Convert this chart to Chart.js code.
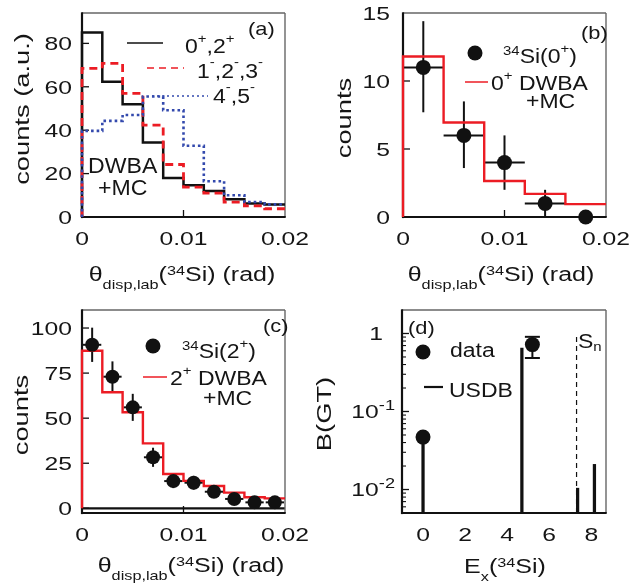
<!DOCTYPE html>
<html><head><meta charset="utf-8">
<script src="https://cdn.jsdelivr.net/npm/chart.js@4.4.1/dist/chart.umd.min.js"></script>
<style>
html,body{margin:0;padding:0;background:#fff;overflow:hidden}
#wrap{position:relative;width:638px;height:587px;background:#fff}
#wrap canvas{position:absolute;left:0;top:0}
</style></head><body><div id="wrap">
<canvas id="pa" width="638" height="587"></canvas>
<canvas id="pb" width="638" height="587"></canvas>
<canvas id="pc" width="638" height="587"></canvas>
<canvas id="pd" width="638" height="587"></canvas>
</div>
<script>
// ================= DATA =================
// Panel (a): DWBA+MC simulated distributions (histograms, bin edges in rad)
const thetaEdgesA = [0, 0.002, 0.004, 0.006, 0.008, 0.010, 0.012, 0.014, 0.016, 0.018, 0.020];
const dwbaA_0p2p   = [85, 62.3, 52, 34.3, 18, 14.6, 12, 8.2, 6.2, 5.8];
const dwbaA_1m2m3m = [68.5, 70.8, 57, 42.3, 24.2, 13.8, 11, 6.9, 5.1, 3.8];
const dwbaA_4m5m   = [39.7, 44.3, 47, 55.5, 49.2, 32.8, 16.5, 10, 6.9, 5.8];

// Panel (b): 34Si(0+) data and 0+ DWBA+MC
const thetaEdgesB = [0, 0.004, 0.008, 0.012, 0.016, 0.020];
const dwbaB_0p    = [11.8, 6.95, 2.65, 1.7, 0.95];
const thetaB      = [0.002, 0.006, 0.010, 0.014, 0.018];
const thetaErrB   = [0.002, 0.002, 0.002, 0.002, 0.002];
const countsB     = [11, 6, 4, 1, 0];
const countsErrLoB = [3.3, 2.4, 2.0, 1.0, 0];
const countsErrHiB = [3.4, 2.5, 2.0, 1.0, 0];

// Panel (c): 34Si(2+) data and 2+ DWBA+MC
const thetaEdgesC = [0, 0.002, 0.004, 0.006, 0.008, 0.010, 0.012, 0.014, 0.016, 0.018, 0.020];
const dwbaC_2p    = [87.4, 64.4, 53.3, 36, 19, 15.2, 12.4, 8.7, 6.1, 5.5];
const thetaC      = [0.001, 0.003, 0.005, 0.007, 0.009, 0.011, 0.013, 0.015, 0.017, 0.019];
const thetaErrC   = [0.0009, 0.0009, 0.0009, 0.0009, 0.0009, 0.0009, 0.0009, 0.0009, 0.0009, 0.0009];
const countsC     = [90.7, 73, 56, 28.3, 15.1, 14.2, 9.2, 5.2, 3.3, 3.3];
const countsErrC  = [9.5, 8.5, 7.5, 5.3, 3.9, 3.8, 3.0, 2.3, 1.8, 1.8];

// Panel (d): B(GT) vs Ex
const exData   = [0, 5.2];
const bgtData  = [0.047, 0.72];
const bgtErrLo = [0, 0.235];
const bgtErrHi = [0, 0.186];
const exUSDB   = [0, 4.7, 7.35, 8.15];
const bgtUSDB  = [0.04, 0.65, 0.0104, 0.021];
const exSn     = 7.3;
const snTop    = 1.0;

// Tick values / labels
const xTicksTheta = [0, 0.01, 0.02];
const xLabelsTheta = ['0', '0.01', '0.02'];
const yTicksA = [0, 20, 40, 60, 80];
const yLabelsA = ['0', '20', '40', '60', '80'];
const yTicksB = [0, 5, 10, 15];
const yLabelsB = ['0', '5', '10', '15'];
const yTicksC = [0, 25, 50, 75, 100];
const yLabelsC = ['0', '25', '50', '75', '100'];
const xTicksD = [0, 2, 4, 6, 8];
const xLabelsD = ['0', '2', '4', '6', '8'];
const yTicksD = [1, 0.1, 0.01];
const yLabelsD = [['1'], ['10', ['-1', 1]], ['10', ['-2', 1]]];
const yMinorD = [0.006, 0.007, 0.008, 0.009, 0.02, 0.03, 0.04, 0.05, 0.06, 0.07, 0.08, 0.09,
                 0.2, 0.3, 0.4, 0.5, 0.6, 0.7, 0.8, 0.9, 2];

// ================= HELPERS =================
const FF = '"Liberation Sans", Arial, Helvetica, sans-serif';
const TXT = '#151515';
const RED = '#ec1c24';
const BLUE = '#3349ad';
const INK = '#111';

function histPoints(edges, vals) {
  const pts = [{x: edges[0], y: 0}];
  vals.forEach((v, i) => pts.push({x: edges[i], y: v}));
  pts.push({x: edges[edges.length - 1], y: vals[vals.length - 1]});
  return pts;
}
function xyPoints(xs, ys) { return xs.map((x, i) => ({x: x, y: ys[i]})); }

function drawRich(ctx, parts, x, y, o) {
  const size = o.size || 20, small = o.small || Math.round(size * 0.66), k = o.k || 1;
  const segs = parts.map(p => Array.isArray(p) ? {t: p[0], m: p[1] || 0, r: p[2]} : {t: p, m: 0});
  ctx.save();
  ctx.translate(x, y);
  if (o.rot) ctx.rotate(o.rot);
  ctx.scale(k, 1);
  let total = 0;
  segs.forEach(s => { ctx.font = (s.m ? small : size) + 'px ' + FF; s.w = ctx.measureText(s.t).width; total += s.w; });
  let cx = o.align === 'center' ? -total / 2 : o.align === 'right' ? -total : 0;
  ctx.fillStyle = o.color || TXT; ctx.textAlign = 'left'; ctx.textBaseline = 'alphabetic';
  segs.forEach(s => {
    ctx.font = (s.m ? small : size) + 'px ' + FF;
    let dy = 0;
    if (s.m === 1) dy = -(s.r != null ? s.r : (o.supRaise != null ? o.supRaise : 0.36)) * size;
    if (s.m === 2) dy = (o.subDrop != null ? o.subDrop : 0.3) * size;
    ctx.fillText(s.t, cx, dy);
    cx += s.w;
  });
  ctx.restore();
}
function seg(ctx, x1, y1, x2, y2, color, w, dash) {
  ctx.save(); ctx.strokeStyle = color; ctx.lineWidth = w; ctx.setLineDash(dash || []);
  ctx.beginPath(); ctx.moveTo(x1, y1); ctx.lineTo(x2, y2); ctx.stroke(); ctx.restore();
}

function decor(o) {
  return {
    id: 'decor',
    beforeDatasetsDraw(chart) {
      const {ctx, chartArea: a, scales: {x, y}} = chart;
      if (o.zeroLine) { const py = y.getPixelForValue(0); seg(ctx, a.left, py, a.right, py, INK, 2.2); }
      // frame
      seg(ctx, a.left, a.top, a.right, a.top, '#666', 1.4);
      seg(ctx, a.right, a.top, a.right, a.bottom, '#666', 1.4);
      seg(ctx, a.left, a.bottom, a.right + 0.7, a.bottom, INK, 2.2);
      seg(ctx, a.left, a.top - 0.7, a.left, a.bottom + 1.1, INK, 2.2);
      // inward tick marks
      if (o.xMarks !== false) o.xTicks.forEach(v => {
        const px = x.getPixelForValue(v);
        if (px > a.left + 2 && px < a.right - 2) seg(ctx, px, a.bottom, px, a.bottom - 7, INK, 1.3);
      });
      o.yTicks.forEach(v => {
        const py = y.getPixelForValue(v);
        if (py > a.top + 2 && py < a.bottom - 2) seg(ctx, a.left, py, a.left + 7, py, INK, 1.3);
      });
      (o.yMinor || []).forEach(v => {
        const py = y.getPixelForValue(v);
        if (py > a.top + 2 && py < a.bottom - 2) seg(ctx, a.left, py, a.left + 4, py, INK, 1.1);
      });
      // error bars
      (o.errors || []).forEach(e => {
        e.x.forEach((xv, i) => {
          const px = x.getPixelForValue(xv), py = y.getPixelForValue(e.y[i]);
          if (e.lo[i] + e.hi[i] > 0) {
            const y1 = y.getPixelForValue(e.y[i] - e.lo[i]), y2 = y.getPixelForValue(e.y[i] + e.hi[i]);
            seg(ctx, px, y1, px, y2, INK, 2);
            if (e.cap) { seg(ctx, px - e.cap, y1, px + e.cap, y1, INK, 2); seg(ctx, px - e.cap, y2, px + e.cap, y2, INK, 2); }
          }
          if (e.xerr && e.xerr[i] > 0) {
            seg(ctx, x.getPixelForValue(xv - e.xerr[i]), py, x.getPixelForValue(xv + e.xerr[i]), py, INK, 2);
          }
        });
      });
    },
    afterDraw(chart) {
      const {ctx, chartArea: a, scales: {x, y}} = chart;
      // tick labels
      o.xTicks.forEach((v, i) => {
        const lab = o.xLabels[i];
        drawRich(ctx, Array.isArray(lab) ? lab : [lab], x.getPixelForValue(v), a.bottom + 28, {size: 19, k: 1.3, align: 'center'});
      });
      o.yTicks.forEach((v, i) => {
        const lab = o.yLabels[i];
        const pad = o.yLabelPad ? o.yLabelPad[i] : (o.yPad || 10);
        drawRich(ctx, Array.isArray(lab) ? lab : [lab], a.left - pad, y.getPixelForValue(v) + 6.8,
          {size: 19, small: 14, k: 1.3, align: 'right', supRaise: 0.42});
      });
      // axis titles
      drawRich(ctx, o.xTitle, o.xTitlePos[0], o.xTitlePos[1], {size: 20, small: 13, k: 1.25, align: 'center', supRaise: 0.32, subDrop: 0.38});
      drawRich(ctx, o.yTitle, o.yTitlePos[0], o.yTitlePos[1], {size: 21, k: 1.3, align: 'center', rot: -Math.PI / 2});
      // legend / annotations
      (o.items || []).forEach(it => {
        if (it.kind === 'line') seg(ctx, it.x1, it.y, it.x2, it.y, it.color, it.w || 1.5, it.dash);
        else if (it.kind === 'dot') { ctx.save(); ctx.fillStyle = INK; ctx.beginPath(); ctx.arc(it.x, it.y, it.r, 0, Math.PI * 2); ctx.fill(); ctx.restore(); }
        else drawRich(ctx, it.parts, it.x, it.y, Object.assign({size: 20, k: 1.15, small: 13, supRaise: 0.5}, it.o || {}));
      });
    }
  };
}

function baseOptions(area, xs, ys) {
  return {
    responsive: false, animation: false, devicePixelRatio: 1, events: [],
    layout: {padding: {left: 0, top: area.top, right: 638 - area.right, bottom: 0}},
    plugins: {legend: {display: false}, tooltip: {enabled: false}},
    scales: {
      x: Object.assign({type: 'linear', offset: false, grid: {display: false, drawTicks: false, offset: false}, border: {display: false},
        ticks: {display: false}, afterFit(s) { s.height = 587 - area.bottom; }}, xs),
      y: Object.assign({type: 'linear', offset: false, grid: {display: false, drawTicks: false}, border: {display: false},
        ticks: {display: false}, afterFit(s) { s.width = area.left; }}, ys)
    }
  };
}
function histDataset(edges, vals, color, width, dash, order) {
  return {type: 'scatter', data: histPoints(edges, vals), showLine: true, stepped: true, borderColor: color,
    borderWidth: width, borderDash: dash || [], pointRadius: 0, fill: false, clip: false, order: order};
}
function pointDataset(xs, ys, r) {
  return {type: 'scatter', data: xyPoints(xs, ys), pointRadius: r, pointBackgroundColor: INK, pointBorderWidth: 0,
    borderColor: INK, showLine: false, clip: false, order: 0};
}

const thetaTitle = ['θ', ['disp,lab', 2], '(', ['34', 1], 'Si) (rad)'];

// ================= PANEL (a) =================
const areaA = {left: 82, top: 13, right: 285, bottom: 217};
new Chart(document.getElementById('pa'), {
  type: 'scatter',
  data: {datasets: [
    histDataset(thetaEdgesA, dwbaA_4m5m, BLUE, 2.6, [2.6, 3], 0),
    histDataset(thetaEdgesA, dwbaA_1m2m3m, RED, 2.8, [8, 5], 1),
    histDataset(thetaEdgesA, dwbaA_0p2p, INK, 2.5, [], 2)
  ]},
  options: baseOptions(areaA, {min: 0, max: 0.02}, {min: 0, max: 94}),
  plugins: [decor({
    xTicks: xTicksTheta, xLabels: xLabelsTheta, yTicks: yTicksA, yLabels: yLabelsA, yPad: 10,
    xTitle: thetaTitle, xTitlePos: [182, 281],
    yTitle: ['counts (a.u.)'], yTitlePos: [29, 109],
    items: [
      {kind: 'text', parts: ['(a)'], x: 248, y: 34.5, o: {size: 19}},
      {kind: 'line', x1: 127, x2: 163, y: 43, color: INK, w: 1.5},
      {kind: 'text', parts: ['0', ['+', 1], ',2', ['+', 1]], x: 185, y: 53},
      {kind: 'line', x1: 147, x2: 184, y: 68, color: RED, w: 1.5, dash: [7, 5]},
      {kind: 'text', parts: ['1', ['-', 1, 0.62], ',2', ['-', 1, 0.62], ',3', ['-', 1, 0.62]], x: 197, y: 78},
      {kind: 'line', x1: 152, x2: 208, y: 96, color: BLUE, w: 1.5, dash: [2, 3]},
      {kind: 'text', parts: ['4', ['-', 1, 0.62], ',5', ['-', 1, 0.62]], x: 213, y: 103},
      {kind: 'text', parts: ['DWBA'], x: 88, y: 173, o: {size: 22, k: 1.05}},
      {kind: 'text', parts: ['+MC'], x: 98, y: 195, o: {size: 22, k: 1.05}}
    ]
  })]
});

// ================= PANEL (b) =================
const areaB = {left: 403, top: 13, right: 606, bottom: 217};
new Chart(document.getElementById('pb'), {
  type: 'scatter',
  data: {datasets: [
    pointDataset(thetaB, countsB, 7.5),
    histDataset(thetaEdgesB, dwbaB_0p, RED, 2.4, [], 1)
  ]},
  options: baseOptions(areaB, {min: 0, max: 0.02}, {min: 0, max: 15}),
  plugins: [decor({
    xTicks: xTicksTheta, xLabels: xLabelsTheta, yTicks: yTicksB, yLabels: yLabelsB, yPad: 13,
    errors: [{x: thetaB, y: countsB, lo: countsErrLoB, hi: countsErrHiB, xerr: thetaErrB}],
    xTitle: thetaTitle, xTitlePos: [501, 281],
    yTitle: ['counts'], yTitlePos: [351, 118],
    items: [
      {kind: 'text', parts: ['(b)'], x: 581, y: 39, o: {size: 19}},
      {kind: 'dot', x: 475, y: 53, r: 7.5},
      {kind: 'text', parts: [['34', 1, 0.42], 'Si(0', ['+', 1], ')'], x: 503, y: 63},
      {kind: 'line', x1: 465, x2: 488, y: 82, color: RED, w: 1.5},
      {kind: 'text', parts: ['0', ['+', 1], ' DWBA'], x: 491, y: 90},
      {kind: 'text', parts: ['+MC'], x: 526, y: 108}
    ]
  })]
});

// ================= PANEL (c) =================
const areaC = {left: 82, top: 310, right: 285, bottom: 513};
new Chart(document.getElementById('pc'), {
  type: 'scatter',
  data: {datasets: [
    pointDataset(thetaC, countsC, 7),
    histDataset(thetaEdgesC, dwbaC_2p, RED, 2.4, [], 1)
  ]},
  options: baseOptions(areaC, {min: 0, max: 0.02}, {min: -2.6, max: 110}),
  plugins: [decor({
    zeroLine: true,
    xTicks: xTicksTheta, xLabels: xLabelsTheta, yTicks: yTicksC, yLabels: yLabelsC, yPad: 10,
    errors: [{x: thetaC, y: countsC, lo: countsErrC, hi: countsErrC, xerr: thetaErrC}],
    xTitle: thetaTitle, xTitlePos: [191, 572],
    yTitle: ['counts'], yTitlePos: [28, 415],
    items: [
      {kind: 'text', parts: ['(c)'], x: 263, y: 331.5, o: {size: 19}},
      {kind: 'dot', x: 153, y: 346, r: 7.5},
      {kind: 'text', parts: [['34', 1, 0.42], 'Si(2', ['+', 1], ')'], x: 182, y: 358},
      {kind: 'line', x1: 143, x2: 167, y: 377, color: RED, w: 1.5},
      {kind: 'text', parts: ['2', ['+', 1], ' DWBA'], x: 170, y: 385},
      {kind: 'text', parts: ['+MC'], x: 203, y: 405}
    ]
  })]
});

// ================= PANEL (d) =================
const areaD = {left: 402, top: 310, right: 606, bottom: 513};
new Chart(document.getElementById('pd'), {
  type: 'scatter',
  data: {datasets: [
    pointDataset(exData, bgtData, 7.5),
    {type: 'scatter', data: [{x: exSn, y: 0.005}, {x: exSn, y: snTop}], showLine: true, borderColor: INK,
      borderWidth: 1.2, borderDash: [5, 4], pointRadius: 0, order: 1},
    {type: 'bar', data: xyPoints(exUSDB, bgtUSDB), backgroundColor: INK, borderWidth: 0, barThickness: 2.6, order: 2}
  ]},
  options: baseOptions(areaD, {min: -1, max: 8.7}, {type: 'logarithmic', min: 0.005, max: 2}),
  plugins: [decor({
    xMarks: false,
    xTicks: xTicksD, xLabels: xLabelsD, yTicks: yTicksD, yLabels: yLabelsD, yLabelPad: [19, 7, 7], yMinor: yMinorD,
    errors: [{x: exData, y: bgtData, lo: bgtErrLo, hi: bgtErrHi, cap: 7.5}],
    xTitle: ['E', ['x', 2], '(', ['34', 1], 'Si)'], xTitlePos: [505, 573],
    yTitle: ['B(GT)'], yTitlePos: [331, 414],
    items: [
      {kind: 'text', parts: ['(d)'], x: 408, y: 334, o: {size: 19}},
      {kind: 'dot', x: 423, y: 352, r: 7.5},
      {kind: 'text', parts: ['data'], x: 450, y: 357},
      {kind: 'line', x1: 424, x2: 443, y: 387, color: INK, w: 2.2},
      {kind: 'text', parts: ['USDB'], x: 449, y: 397},
      {kind: 'text', parts: ['S', ['n', 2]], x: 578, y: 348, o: {subDrop: 0.15}}
    ]
  })]
});
</script></body></html>
